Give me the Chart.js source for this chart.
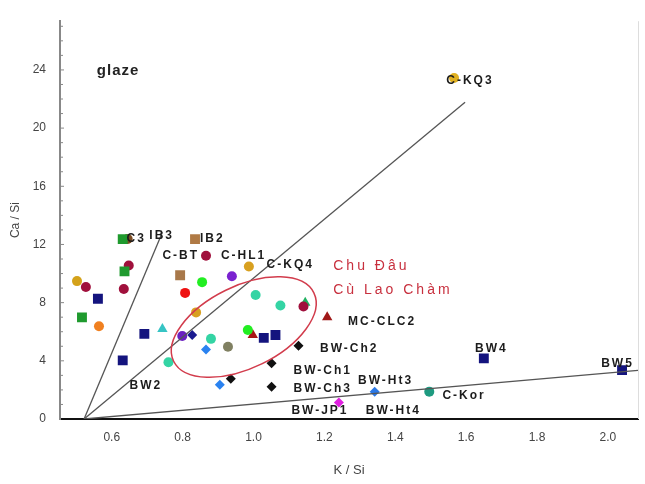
<!DOCTYPE html>
<html>
<head>
<meta charset="utf-8">
<script src="https://cdn.jsdelivr.net/npm/chart.js@4.4.1/dist/chart.umd.min.js"></script>
<style>
  html, body { margin: 0; padding: 0; background: #fff; }
  #wrap { width: 645px; height: 484px; }
</style>
</head>
<body>
<div id="wrap"><canvas id="myChart" width="645" height="484"></canvas></div>
<script>
// values (x = K/Si)
var xTicks = [0.6, 0.8, 1.0, 1.2, 1.4, 1.6, 1.8, 2.0];
var yTicks = [0, 4, 8, 12, 16, 20, 24];

var squareX = [0.631, 0.636, 0.561, 0.516, 0.692, 0.631, 0.835, 0.793, 1.029, 1.062, 1.650, 2.040];
var squareY = [12.37, 10.15, 8.27, 6.99, 5.85, 4.03, 12.37, 9.88, 5.58, 5.78, 4.17, 3.36];

var circleX = [0.645, 0.648, 0.502, 0.527, 0.634, 0.855, 0.807, 0.564, 0.838, 0.799, 0.866, 0.987, 0.939, 1.006, 1.076, 1.141, 0.984, 0.880, 0.928, 0.760, 1.496, 1.566];
var circleY = [12.37, 10.55, 9.48, 9.07, 8.94, 9.41, 8.67, 6.38, 7.33, 5.71, 11.22, 10.48, 9.81, 8.53, 7.80, 7.73, 6.12, 5.51, 4.97, 3.90, 1.88, 23.45];

var triangleX = [0.743, 0.998, 1.208, 1.146];
var triangleY = [6.18, 5.78, 6.99, 8.0];

var diamondX = [1.127, 1.051, 1.051, 0.936, 0.866, 0.905, 1.342, 1.241, 0.827];
var diamondY = [5.04, 3.83, 2.22, 2.76, 4.77, 2.35, 1.88, 1.14, 5.78];

// reference lines from a common origin
var lineStart = [0.522, 0];
var lineEndX = [0.743, 1.597, 2.085];
var lineEndY = [12.84, 21.77, 3.34];

// Chu Dau / Cu Lao Cham group (centre in data units)
var groupCentre = [0.9725, 6.32];

var pointLabels = ['C3', 'IB3', 'IB2', 'C-BT', 'C-HL1', 'C-KQ4', 'C-KQ3', 'MC-CLC2', 'BW-Ch2', 'BW-Ch1', 'BW-Ch3', 'BW-JP1', 'BW-Ht3', 'BW-Ht4', 'C-Kor', 'BW4', 'BW5', 'BW2'];
var labelX = [0.642, 0.706, 0.849, 0.743, 0.908, 1.037, 1.544, 1.267, 1.188, 1.113, 1.113, 1.107, 1.295, 1.317, 1.533, 1.625, 1.981, 0.650];
var labelY = [12.37, 12.57, 12.43, 11.22, 11.22, 10.62, 23.25, 6.72, 4.84, 3.29, 2.08, 0.60, 2.62, 0.60, 1.61, 4.84, 3.83, 2.28];

var groupNames = ['Chu Đâu', 'Cù Lao Chàm'];

// colours
var squareColors = ['#1f9a2e', '#1f9a2e', '#14147e', '#1f9a2e', '#14147e', '#14147e', '#b07a45', '#a8784a', '#14147e', '#14147e', '#14147e', '#14147e'];
var circleColors = ['#7a4a20', '#a0103c', '#d4a21a', '#a0103c', '#a0103c', '#22ee22', '#ee1111', '#f08020', '#d8a020', '#6a1fc0', '#a0103c', '#d8a020', '#7a22d0', '#34d4a4', '#34d4a4', '#a0103c', '#22ee22', '#34d4a4', '#808062', '#34d4a4', '#1e9a80', '#e0b020'];
var triangleColors = ['#36c4c4', '#a81414', '#a01818', '#1fb060'];
var diamondColors = ['#111', '#111', '#111', '#111', '#2a82f0', '#2a82f0', '#2a78e6', '#e020e0', '#1a1a90'];

function pts(xs, ys) {
  return xs.map(function (x, i) { return { x: x, y: ys[i] }; });
}

var datasets = [];
for (var i = 0; i < lineEndX.length; i++) {
  datasets.push({
    data: [{ x: lineStart[0], y: lineStart[1] }, { x: lineEndX[i], y: lineEndY[i] }],
    showLine: true, borderColor: '#555', borderWidth: 1.3, pointRadius: 0
  });
}
datasets.push({ data: pts(squareX, squareY), pointStyle: 'rect', pointRadius: 7, backgroundColor: squareColors, borderColor: squareColors, borderWidth: 0 });
datasets.push({ data: pts(circleX, circleY), pointStyle: 'circle', pointRadius: 5, backgroundColor: circleColors, borderColor: circleColors, borderWidth: 0 });
datasets.push({ data: pts(triangleX, triangleY), pointStyle: 'triangle', pointRadius: 6, backgroundColor: triangleColors, borderColor: triangleColors, borderWidth: 0 });
datasets.push({ data: pts(diamondX, diamondY), pointStyle: 'rectRot', pointRadius: 5, backgroundColor: diamondColors, borderColor: diamondColors, borderWidth: 0 });

var extras = {
  id: 'extras',
  beforeDatasetsDraw: function (chart) {
    var c = chart.ctx, a = chart.chartArea;
    var xs = chart.scales.x, ys = chart.scales.y;
    c.save();
    // right frame line
    c.strokeStyle = '#ddd';
    c.lineWidth = 1;
    c.beginPath();
    c.moveTo(a.right + 0.5, a.top);
    c.lineTo(a.right + 0.5, a.bottom);
    c.stroke();
    // small inner ticks on left axis
    c.strokeStyle = '#888';
    for (var v = 1; v <= 27; v++) {
      var py = ys.getPixelForValue(v);
      c.beginPath();
      c.moveTo(a.left, py);
      c.lineTo(a.left + (v % 4 === 0 ? 4 : 3), py);
      c.stroke();
    }
    c.restore();
  },
  afterDatasetsDraw: function (chart) {
    var c = chart.ctx;
    var xs = chart.scales.x, ys = chart.scales.y;
    c.save();
    // ellipse around the group
    c.strokeStyle = '#d23c4c';
    c.lineWidth = 1.5;
    c.beginPath();
    c.ellipse(xs.getPixelForValue(groupCentre[0]), ys.getPixelForValue(groupCentre[1]), 78, 41, -26 * Math.PI / 180, 0, 2 * Math.PI);
    c.stroke();
    // point labels
    c.fillStyle = '#1c1c1c';
    c.font = 'bold 12px "Liberation Sans", Arial, sans-serif';
    c.letterSpacing = '2px';
    c.textBaseline = 'middle';
    c.textAlign = 'left';
    for (var i = 0; i < pointLabels.length; i++) {
      c.fillText(pointLabels[i], xs.getPixelForValue(labelX[i]), ys.getPixelForValue(labelY[i]));
    }
    // glaze
    c.font = 'bold 15px "Liberation Sans", Arial, sans-serif';
    c.letterSpacing = '1px';
    c.fillStyle = '#222';
    c.fillText('glaze', xs.getPixelForValue(0.558), ys.getPixelForValue(23.92));
    // group names
    c.font = '14px "Liberation Sans", Arial, sans-serif';
    c.letterSpacing = '3px';
    c.fillStyle = '#c8303e';
    c.fillText(groupNames[0], xs.getPixelForValue(1.225), ys.getPixelForValue(10.48));
    c.fillText(groupNames[1], xs.getPixelForValue(1.225), ys.getPixelForValue(8.87));
    c.restore();
  }
};

var ctx = document.getElementById('myChart').getContext('2d');
var myChart = new Chart(ctx, {
  type: 'scatter',
  data: { datasets: datasets },
  plugins: [extras],
  options: {
    responsive: false,
    animation: false,
    layout: { padding: { top: 12, right: 3, left: 0, bottom: 0 } },
    plugins: { legend: { display: false }, tooltip: { enabled: false } },
    scales: {
      x: {
        type: 'linear', min: 0.454, max: 2.085,
        afterFit: function (s) { s.height = 65; },
        afterBuildTicks: function (s) { s.ticks = xTicks.map(function (v) { return { value: v }; }); },
        grid: { display: false, drawTicks: false },
        border: { display: true, color: '#111', width: 2 },
        ticks: {
          padding: 11, color: '#444',
          font: { family: '"Liberation Sans", Arial, sans-serif', size: 12 },
          callback: function (v) { return v.toFixed(1); }
        },
        title: {
          display: true, text: 'K / Si', color: '#444',
          font: { family: '"Liberation Sans", Arial, sans-serif', size: 13 },
          padding: { top: 0, bottom: 6 }
        }
      },
      y: {
        type: 'linear', min: 0, max: 27.35,
        afterFit: function (s) { s.width = 60; },
        afterBuildTicks: function (s) { s.ticks = yTicks.map(function (v) { return { value: v }; }); },
        grid: { display: false, drawTicks: false },
        border: { display: true, color: '#888', width: 2 },
        ticks: {
          padding: 14, color: '#444',
          font: { family: '"Liberation Sans", Arial, sans-serif', size: 12 }
        },
        title: {
          display: true, text: 'Ca / Si', color: '#444',
          font: { family: '"Liberation Sans", Arial, sans-serif', size: 12 },
          padding: { top: 8, bottom: 0 }
        }
      }
    }
  }
});
</script>
</body>
</html>
